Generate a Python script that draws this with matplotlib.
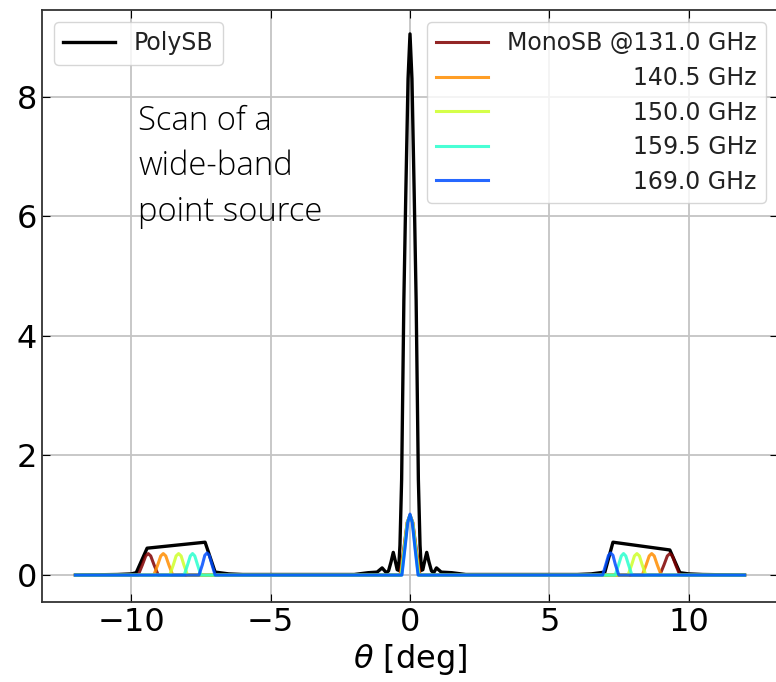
import numpy as np
import matplotlib
matplotlib.use("Agg")
import matplotlib.pyplot as plt

##### data #####

# PolySB (black)
poly_theta = [-12.0, -10.5, -10.0, -9.82, -9.43, -7.35, -6.99, -6.5, -6.0, -2.0,
              -1.5, -1.18, -1.0, -0.85, -0.77, -0.68, -0.6, -0.52, -0.46, -0.41,
              -0.36, -0.3, -0.22, -0.15, -0.07, 0.0, 0.07, 0.15, 0.22, 0.3,
              0.36, 0.41, 0.46, 0.52, 0.6, 0.68, 0.77, 0.85, 0.95, 1.12,
              1.5, 2.0, 6.0, 6.5, 6.99, 7.28, 9.32, 9.68, 10.0, 10.5,
              12.0]
poly_val = [0.0, 0.01, 0.02, 0.04, 0.45, 0.55, 0.05, 0.02, 0.01, 0.01,
            0.04, 0.05, 0.12, 0.04, 0.07, 0.22, 0.38, 0.22, 0.09, 0.08,
            0.5, 1.6, 4.6, 6.4, 8.3, 9.05, 8.3, 6.4, 4.6, 1.6,
            0.5, 0.08, 0.09, 0.22, 0.38, 0.22, 0.07, 0.04, 0.12, 0.05,
            0.04, 0.01, 0.01, 0.02, 0.05, 0.55, 0.42, 0.04, 0.02, 0.01,
            0.0]

# MonoSB channels
freqs = [131.0, 140.5, 150.0, 159.5, 169.0]

theta_131 = [-12.0, -9.75, -9.6, -9.48, -9.39, -9.3, -9.18, -9.03,
             -0.36, -0.22, -0.1, 0.0, 0.1, 0.22, 0.36,
             8.96, 9.11, 9.23, 9.32, 9.41, 9.53, 9.68, 12.0]
theta_140 = [-12.0, -9.19, -9.05, -8.94, -8.85, -8.76, -8.65, -8.51,
             -0.34, -0.21, -0.1, 0.0, 0.1, 0.21, 0.34,
             8.33, 8.47, 8.58, 8.67, 8.76, 8.87, 9.01, 12.0]
theta_150 = [-12.0, -8.62, -8.49, -8.39, -8.3, -8.21, -8.11, -7.98,
             -0.32, -0.2, -0.09, 0.0, 0.09, 0.2, 0.32,
             7.82, 7.95, 8.05, 8.14, 8.23, 8.33, 8.46, 12.0]
theta_159 = [-12.0, -8.1, -7.98, -7.88, -7.8, -7.72, -7.62, -7.5,
             -0.3, -0.19, -0.09, 0.0, 0.09, 0.19, 0.3,
             7.36, 7.48, 7.58, 7.66, 7.74, 7.84, 7.96, 12.0]
theta_169 = [-12.0, -7.57, -7.45, -7.36, -7.28, -7.2, -7.1, -6.99,
             -0.29, -0.18, -0.08, 0.0, 0.08, 0.18, 0.29,
             6.91, 7.02, 7.12, 7.2, 7.28, 7.37, 7.49, 12.0]

val_131 = [0, 0, 0.17, 0.32, 0.36, 0.32, 0.17, 0, 0, 0.45, 0.88, 1.0, 0.88, 0.45, 0, 0, 0.17, 0.32, 0.36, 0.32, 0.17, 0, 0]
val_140 = [0, 0, 0.17, 0.32, 0.36, 0.32, 0.17, 0, 0, 0.45, 0.88, 1.0, 0.88, 0.45, 0, 0, 0.17, 0.32, 0.36, 0.32, 0.17, 0, 0]
val_150 = [0, 0, 0.17, 0.32, 0.36, 0.32, 0.17, 0, 0, 0.45, 0.88, 1.0, 0.88, 0.45, 0, 0, 0.17, 0.32, 0.36, 0.32, 0.17, 0, 0]
val_159 = [0, 0, 0.17, 0.32, 0.36, 0.32, 0.17, 0, 0, 0.45, 0.88, 1.0, 0.88, 0.45, 0, 0, 0.17, 0.32, 0.36, 0.32, 0.17, 0, 0]
val_169 = [0, 0, 0.17, 0.33, 0.37, 0.33, 0.17, 0, 0, 0.45, 0.88, 1.02, 0.88, 0.45, 0, 0, 0.17, 0.33, 0.37, 0.33, 0.17, 0, 0]

mono_theta = [theta_131, theta_140, theta_150, theta_159, theta_169]
mono_val = [val_131, val_140, val_150, val_159, val_169]

##### figure #####

fig = plt.figure(figsize=(7.76, 6.82), dpi=100)
ax = fig.add_axes([42 / 776, 80 / 682, 736 / 776, 592 / 682])

p_poly, = ax.plot(poly_theta, poly_val, "k-", lw=2.4, label="PolySB")

colors = plt.cm.jet([1.0, 0.76, 0.6, 0.4, 0.2])
mono_lines = []
for i in range(len(freqs)):
    if i == 0:
        lab = "MonoSB @%.1f GHz" % freqs[i]
    else:
        lab = "%.1f GHz" % freqs[i]
    l, = ax.plot(mono_theta[i], mono_val[i], "-", color=colors[i], lw=2.2,
                 alpha=0.85, label=lab)
    mono_lines.append(l)

ax.set_xlim(-13.2, 13.2)
ax.set_ylim(-0.45, 9.45)
ax.set_xticks([-10, -5, 0, 5, 10])
ax.set_yticks([0, 2, 4, 6, 8])
ax.grid(True, color="#c4c4c4", lw=1.3)
ax.tick_params(direction="in", top=True, right=True, labelsize=23, length=6)
for s in ax.spines.values():
    s.set_color("#333333")
    s.set_linewidth(1.3)

ax.set_xlabel(r"$\theta$ [deg]", fontsize=23, labelpad=3)

ax.text(-9.75, 7.87, "Scan of a\nwide-band\npoint source", fontsize=23.6,
        family="Open Sans", weight="light", va="top", ha="left", linespacing=1.47)

# legends
leg1 = ax.legend([p_poly], ["PolySB"], loc="upper left", fontsize=17,
                 handlelength=2.2, borderaxespad=0.5)
ax.add_artist(leg1)
leg2 = ax.legend(mono_lines, [l.get_label() for l in mono_lines], loc="upper right",
                 fontsize=17, handlelength=2.2, labelspacing=0.45, borderaxespad=0.5)
for leg in (leg1, leg2):
    for t in leg.get_texts():
        t.set_color("#222222")

# right-align the text of the second legend
fig.canvas.draw()
r = fig.canvas.get_renderer()
texts = leg2.get_texts()
widths = [t.get_window_extent(r).width for t in texts]
for t, w in zip(texts, widths):
    t.set_position((max(widths) - w, 0))

fig.savefig("out.png", dpi=100)
